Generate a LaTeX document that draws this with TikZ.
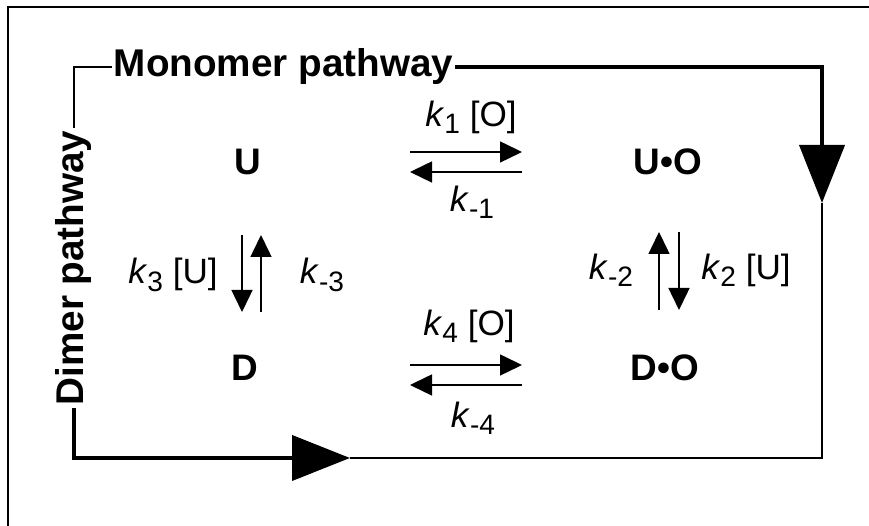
\documentclass[tikz,border=0pt]{standalone}
\usepackage{fontspec}
\setmainfont{Liberation Sans}
\usetikzlibrary{arrows.meta,positioning,calc}
\newcommand{\rate}[1]{\textit{k}\raisebox{-0.4ex}{\fontsize{16}{16}\selectfont #1}}
\tikzset{
  species/.style={font=\fontsize{21}{21}\selectfont\bfseries, inner sep=1pt},
  ratelbl/.style={font=\fontsize{20}{20}\selectfont, inner sep=1pt},
  pathlbl/.style={font=\fontsize{22}{22}\selectfont\bfseries, inner sep=1pt},
  rxn/.style={line width=0.85pt, -{Triangle[length=0.44cm,width=0.42cm]}},
  loopthick/.style={line width=2.3pt},
  loopthin/.style={line width=1.1pt},
  bigtip/.style={-{Triangle[length=1.16cm,width=0.9cm]}},
  frameline/.style={line width=0.8pt}
}
\begin{document}
\begin{tikzpicture}
\useasboundingbox (0,0) rectangle (17.38,10.52);
\draw[frameline] (0.16,0) |- (17.38,10.38);

% Species
\node[species] (U) at (4.96,7.28) {U};
\node[species] (UO) at (13.36,7.28) {U•O};
\node[species] (D) at (4.90,3.16) {D};
\node[species] (DO) at (13.30,3.16) {D•O};

% Reaction arrows
\coordinate (ua) at (8.2,7.28);
\coordinate (ub) at (10.44,7.28);
\coordinate (da) at (8.2,3.02);
\coordinate (db) at (10.44,3.02);
\coordinate (la) at (5.03,5.82);
\coordinate (lb) at (5.03,4.28);
\coordinate (ra) at (13.38,5.88);
\coordinate (rb) at (13.38,4.32);
\draw[rxn] ([yshift=2mm]ua) -- ([yshift=2mm]ub);
\draw[rxn] ([yshift=-2mm]ub) -- ([yshift=-2mm]ua);
\draw[rxn] ([yshift=2mm]da) -- ([yshift=2mm]db);
\draw[rxn] ([yshift=-2mm]db) -- ([yshift=-2mm]da);
\draw[rxn] ([xshift=-1.9mm]la) -- ([xshift=-1.9mm]lb);
\draw[rxn] ([xshift=1.9mm]lb) -- ([xshift=1.9mm]la);
\draw[rxn] ([xshift=-2mm]rb) -- ([xshift=-2mm]ra);
\draw[rxn] ([xshift=2mm]ra) -- ([xshift=2mm]rb);

% Rate constants
\node[ratelbl] (k1) at (9.42,8.18) {\rate{1} [O]};
\node[ratelbl] (km1) at (9.44,6.48) {\rate{-1}};
\node[ratelbl] (k4) at (9.38,4.00) {\rate{4} [O]};
\node[ratelbl] (km4) at (9.46,2.16) {\rate{-4}};
\node[ratelbl] (k3) at (3.46,5.02) {\rate{3} [U]};
\node[ratelbl] (km3) at (6.44,5.02) {\rate{-3}};
\node[ratelbl] (km2) at (12.22,5.12) {\rate{-2}};
\node[ratelbl] (k2) at (14.92,5.12) {\rate{2} [U]};

% Pathways
\node[pathlbl] (mono) at (5.67,9.18) {Monomer pathway};
\node[pathlbl,rotate=90] (dimer) at (1.48,5.16) {Dimer pathway};
\coordinate (tipR) at (16.44,6.46);
\coordinate (tipB) at (7.00,1.36);
\draw[frameline] (mono.west) -| (dimer.east);
\draw[loopthick,bigtip] (mono.east) -| (tipR);
\draw[loopthick,bigtip] (dimer.west) |- (tipB);
\draw[loopthin] (tipB) -| (tipR);
\end{tikzpicture}
\end{document}
